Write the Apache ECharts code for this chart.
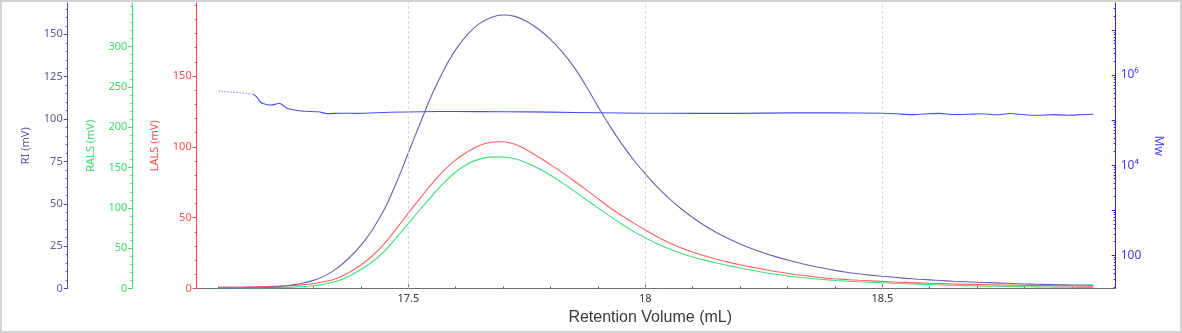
<!DOCTYPE html>
<html>
<head>
<meta charset="utf-8">
<title>Retention Volume</title>
<script src="https://cdn.jsdelivr.net/npm/echarts@6/dist/echarts.min.js"></script>
<style>
  html, body { margin: 0; padding: 0; background: #fff; }
  #wrap { position: relative; width: 1182px; height: 333px; }
  #chart { position: absolute; left: 0; top: 0; width: 1182px; height: 333px; }
  #frame { position: absolute; left: 0; top: 0; width: 1182px; height: 333px;
           box-sizing: border-box; border: 2px solid #d3d3d3; pointer-events: none; }
</style>
</head>
<body>
<div id="wrap"><div id="chart"></div><div id="frame"></div></div>
<script>
// Detector traces, sampled every 0.025 mL of retention volume
const volume = [17.100, 17.125, 17.150, 17.175, 17.200, 17.225, 17.250, 17.275, 17.300, 17.325,
  17.350, 17.375, 17.400, 17.425, 17.450, 17.475, 17.500, 17.525, 17.550, 17.575,
  17.600, 17.625, 17.650, 17.675, 17.700, 17.725, 17.750, 17.775, 17.800, 17.825,
  17.850, 17.875, 17.900, 17.925, 17.950, 17.975, 18.000, 18.025, 18.050, 18.075,
  18.100, 18.125, 18.150, 18.175, 18.200, 18.225, 18.250, 18.275, 18.300, 18.325,
  18.350, 18.375, 18.400, 18.425, 18.450, 18.475, 18.500, 18.525, 18.550, 18.575,
  18.600, 18.625, 18.650, 18.675, 18.700, 18.725, 18.750, 18.775, 18.800, 18.825,
  18.850, 18.875, 18.900, 18.925, 18.945];

const riMV = [0.2, 0.2, 0.3, 0.4, 0.6, 1.1, 1.9, 3.0, 4.8, 7.6,
  12, 18, 25.5, 35, 47, 62.5, 80, 97.5, 114.5, 129,
  141, 150, 156.3, 160, 161.4, 160.6, 157.6, 153, 147, 139.5,
  130.5, 119.5, 107.5, 96, 85.5, 76, 67.7, 60, 53.2, 47.2,
  41.9, 37.2, 33.1, 29.5, 26.3, 23.5, 21, 18.8, 16.8, 15,
  13.4, 12, 10.7, 9.6, 8.7, 7.9, 7.2, 6.6, 6.0, 5.5,
  5.1, 4.7, 4.3, 4.0, 3.7, 3.45, 3.2, 2.95, 2.7, 2.5,
  2.35, 2.2, 2.1, 2.05, 2.0];

const lalsMV = [0.9, 1.0, 1.1, 1.25, 1.4, 1.6, 1.9, 2.5, 3.4, 4.9,
  7.3, 11.3, 16.6, 23.3, 31.8, 42.3, 53.2, 63.8, 74, 83.2,
  90.8, 96.5, 101, 103.2, 103.6, 101.8, 97.8, 92.8, 87.4, 81.8,
  75.9, 69.8, 63.4, 57.2, 51.5, 46.3, 41.3, 36.5, 32.3, 28.8,
  25.8, 23.1, 20.7, 18.6, 16.8, 15.1, 13.5, 12, 10.7, 9.5,
  8.5, 7.6, 6.9, 6.3, 5.8, 5.4, 5.0, 4.6, 4.3, 4.0,
  3.7, 3.45, 3.2, 3.0, 2.8, 2.65, 2.5, 2.35, 2.2, 2.1,
  2.0, 1.9, 1.8, 1.7, 1.6];

const ralsMV = [0.3, 0.45, 0.6, 0.75, 0.9, 1.1, 1.4, 2.2, 3.5, 5.5,
  9.2, 15.3, 23.5, 33.5, 46.5, 63, 80.5, 98, 115, 131,
  144.5, 154.5, 160.5, 163, 163.2, 161, 155.8, 148.8, 140.5, 131,
  120.8, 110.3, 100, 89.8, 80, 70.9, 62.8, 55.5, 49.3, 43.8,
  39.2, 35.2, 31.6, 28.4, 25.4, 22.6, 19.9, 17.6, 15.6, 13.9,
  12.5, 11.2, 10, 9.1, 8.3, 7.7, 7.1, 6.5, 5.9, 5.4,
  4.9, 4.4, 4.0, 3.6, 3.3, 3.0, 2.75, 2.5, 2.25, 2.0,
  1.8, 1.65, 1.5, 1.35, 1.2];

// Molar mass trace
const mwVolume = [17.10, 17.13, 17.16, 17.173, 17.18, 17.187, 17.195, 17.21, 17.22, 17.228,
  17.243, 17.26, 17.28, 17.31, 17.33, 17.36, 17.39, 17.46, 17.53, 17.60,
  17.70, 17.80, 17.90, 18.00, 18.10, 18.20, 18.30, 18.40, 18.50, 18.53,
  18.56, 18.59, 18.62, 18.65, 18.68, 18.71, 18.74, 18.77, 18.80, 18.83,
  18.86, 18.89, 18.92, 18.945];
const mwValue = [442000, 415000, 389000, 373000, 325000, 258000, 230000, 216000, 225000, 236000,
  185000, 167000, 157000, 153000, 139000, 142000, 141000, 149000, 153000, 155000,
  153000, 150000, 145000, 142000, 141000, 141000, 144000, 144000, 141300, 137700,
  132200, 136400, 140600, 132900, 134300, 137700, 130900, 139300, 130900, 127600,
  132200, 128300, 131500, 134300];
const mwDottedCount = 4;

// Axis ticks
const xLabelTicks = [17.5, 18, 18.5];
const riLabelTicks = [0, 25, 50, 75, 100, 125, 150];
const ralsLabelTicks = [0, 50, 100, 150, 200, 250, 300];
const lalsLabelTicks = [0, 50, 100, 150];
const mwLabelTicks = [100, 10000, 1000000];

const FONT = "'Noto Sans', 'DejaVu Sans', sans-serif";
const X_MIN = 17.0536, X_MAX = 18.9924;
const MW_MIN = 18.3, MW_MAX = 3.958e7;

const COL = {
  ri: '#6262b4', riAxis: '#4e4ea6', riText: '#5a5a9c',
  rals: '#3fdf78', ralsAxis: '#3ddc6a', ralsText: '#3fd86a',
  lals: '#ff6060', lalsAxis: '#ff4545', lalsText: '#ff4d4d',
  mw: '#4b4bf0', mwAxis: '#2a2aee', mwText: '#3c3cef'
};

function steps(from, to, step) {
  const out = [];
  for (let v = from; v <= to + 1e-9; v += step) out.push(+v.toFixed(6));
  return out;
}

function leftAxes(name, axisColor, textColor, max, offset, labels, minorStep) {
  const main = {
    type: 'value', position: 'left', offset, min: 0, max,
    name, nameLocation: 'middle', nameGap: 36,
    nameTextStyle: { color: textColor, fontSize: 11, fontFamily: FONT },
    axisLine: { show: true, onZero: false, lineStyle: { color: axisColor, width: 1 } },
    axisTick: { show: true, customValues: labels, length: 4, lineStyle: { color: axisColor } },
    axisLabel: { customValues: labels, color: textColor, fontSize: 11, margin: 5, fontFamily: FONT },
    splitLine: { show: false }
  };
  const minor = {
    type: 'value', position: 'left', offset, min: 0, max,
    axisLine: { show: false, onZero: false },
    axisTick: { show: true, customValues: steps(0, max, minorStep), length: 2, lineStyle: { color: axisColor } },
    axisLabel: { show: false },
    splitLine: { show: false }
  };
  return [main, minor];
}

const mwDecades = [];
const mwMinor = [];
for (let d = 1; d <= 7; d++) {
  const base = Math.pow(10, d);
  if (base >= MW_MIN && base <= MW_MAX) mwDecades.push(base);
  for (let k = 2; k <= 9; k++) {
    const v = k * base;
    if (v >= MW_MIN && v <= MW_MAX) mwMinor.push(v);
  }
}
const SUP = { 4: '\u2074', 6: '\u2076' };

const yAxes = [
  ...leftAxes('LALS (mV)', COL.lalsAxis, COL.lalsText, 201.5, 0, lalsLabelTicks, 10),
  ...leftAxes('RALS (mV)', COL.ralsAxis, COL.ralsText, 354.2, 64.4, ralsLabelTicks, 10),
  ...leftAxes('RI (mV)', COL.riAxis, COL.riText, 168.5, 129, riLabelTicks, 5),
  {
    type: 'log', logBase: 10, position: 'right', min: MW_MIN, max: MW_MAX,
    name: 'Mw', nameLocation: 'middle', nameGap: 34, nameRotate: -90,
    nameTextStyle: { color: COL.mwText, fontSize: 12, fontFamily: FONT },
    axisLine: { show: true, onZero: false, lineStyle: { color: COL.mwAxis, width: 1 } },
    axisTick: { show: true, inside: true, customValues: mwDecades, length: 4, lineStyle: { color: COL.mwAxis } },
    axisLabel: {
      customValues: mwLabelTicks, color: COL.mwText, fontSize: 12, margin: 5, fontFamily: FONT,
      formatter: v => { const e = Math.round(Math.log10(v)); return e === 2 ? '100' : '10' + SUP[e]; }
    },
    splitLine: { show: false }
  },
  {
    type: 'log', logBase: 10, position: 'right', min: MW_MIN, max: MW_MAX,
    axisLine: { show: false, onZero: false },
    axisTick: { show: true, inside: true, customValues: mwMinor, length: 2, lineStyle: { color: COL.mwAxis } },
    axisLabel: { show: false },
    splitLine: { show: false }
  }
];

const xAxes = [
  {
    type: 'value', position: 'bottom', min: X_MIN, max: X_MAX,
    name: 'Retention Volume (mL)', nameLocation: 'middle', nameGap: 21,
    nameTextStyle: { color: '#3a3a3a', fontSize: 16, fontFamily: "'Liberation Sans', Arial, sans-serif", padding: [0, 12, 0, 0] },
    axisLine: { show: true, onZero: false, lineStyle: { color: '#6e6e6e', width: 1 } },
    axisTick: { show: true, inside: true, customValues: xLabelTicks, length: 4, lineStyle: { color: '#555' } },
    axisLabel: { customValues: xLabelTicks, color: '#333', fontSize: 11, margin: 5, fontFamily: FONT },
    splitLine: { show: false }
  },
  {
    type: 'value', position: 'bottom', min: X_MIN, max: X_MAX,
    axisLine: { show: false, onZero: false },
    axisTick: { show: true, inside: true, customValues: steps(17.1, 18.9, 0.1), length: 2, lineStyle: { color: '#555' } },
    axisLabel: { show: false },
    splitLine: { show: false }
  }
];

const pairs = (xs, ys) => xs.map((x, i) => [x, ys[i]]);
const mwPairs = pairs(mwVolume, mwValue);

const baseLine = (name, data, yIdx, color, extra) => Object.assign({
  name, type: 'line', data, xAxisIndex: 0, yAxisIndex: yIdx,
  showSymbol: false, symbol: 'none', smooth: 0.35,
  lineStyle: { color, width: 1.1 }, itemStyle: { color }, silent: true, animation: false
}, extra || {});

const option = {
  backgroundColor: '#fff',
  animation: false,
  grid: { left: 196.7, right: 66.3, top: 3, bottom: 44.5, containLabel: false, outerBoundsMode: 'none' },
  xAxis: xAxes,
  yAxis: yAxes,
  series: [
    baseLine('Mw', mwPairs.slice(mwDottedCount - 1), 6, COL.mw, { smooth: 0.25 }),
    baseLine('Mw start', mwPairs.slice(0, mwDottedCount), 6, COL.mw, {
      smooth: false, lineStyle: { color: COL.mw, width: 1, type: [1, 2] }
    }),
    baseLine('RALS', pairs(volume, ralsMV), 2, COL.rals),
    baseLine('LALS', pairs(volume, lalsMV), 0, COL.lals),
    baseLine('RI', pairs(volume, riMV), 4, COL.ri, {
      markLine: {
        silent: true, symbol: ['none', 'none'], label: { show: false },
        lineStyle: { color: '#c9c9c9', type: [2, 3], width: 1 },
        data: xLabelTicks.map(v => ({ xAxis: v }))
      }
    })
  ]
};

const chart = echarts.init(document.getElementById('chart'), null, { renderer: 'canvas' });
chart.setOption(option);
</script>
</body>
</html>
